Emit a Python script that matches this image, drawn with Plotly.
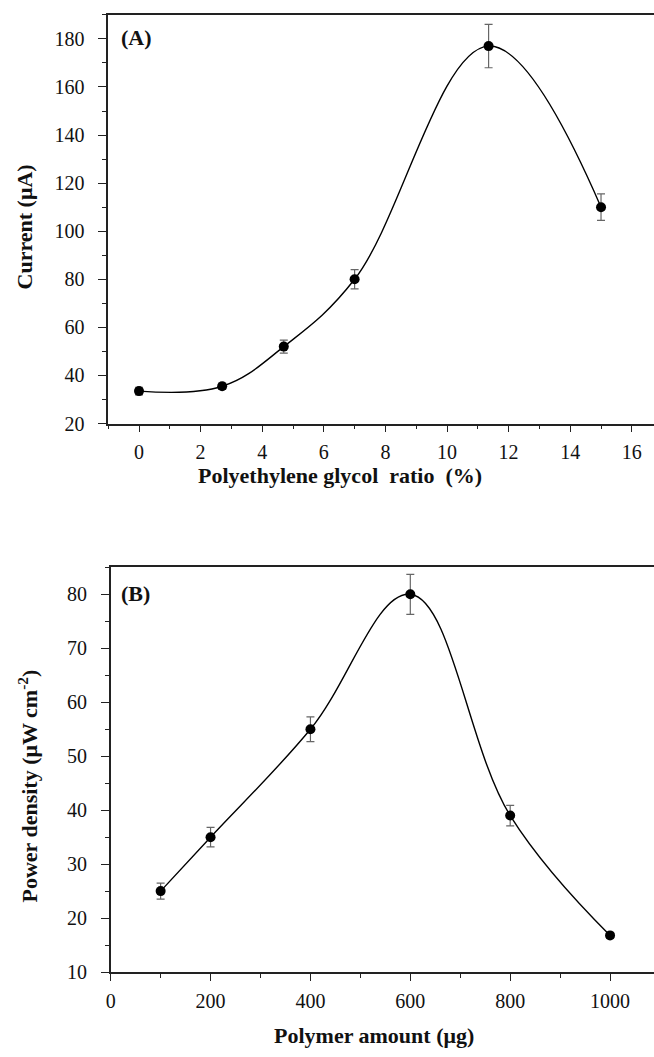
import plotly.graph_objects as go

W, H = 654, 1057

# Panel A data
peg_ratio = [0, 2.7, 4.7, 7.0, 11.35, 15.0]
current = [33.5, 35.5, 52.0, 80.0, 177.0, 110.0]
current_err = [1.6, 1.3, 2.7, 4.0, 9.0, 5.5]

# Panel B data
polymer_amount = [100, 200, 400, 600, 800, 1000]
power_density = [25.0, 35.0, 55.0, 80.0, 39.0, 16.8]
power_err = [1.5, 1.8, 2.3, 3.7, 1.9, 0.5]

FONT = "Liberation Serif, Times New Roman, serif"
AX_COLOR = "#222222"

fig = go.Figure()

def add_panel(x, y, err, xa, ya):
    fig.add_trace(go.Scatter(
        x=x, y=y, mode="lines",
        line=dict(color="black", width=1.4, shape="spline", smoothing=1.1),
        xaxis=xa, yaxis=ya, showlegend=False, hoverinfo="skip"))
    fig.add_trace(go.Scatter(
        x=x, y=y, mode="markers",
        marker=dict(color="black", size=10, symbol="circle"),
        error_y=dict(type="data", array=err, visible=True, color="#666666",
                     thickness=1.2, width=4),
        xaxis=xa, yaxis=ya, showlegend=False))

add_panel(peg_ratio, current, current_err, "x", "y")
add_panel(polymer_amount, power_density, power_err, "x2", "y2")

def px_x(v):
    return v / W

def px_y(v):
    return 1 - v / H

tickfont = dict(family=FONT, size=20, color="#111111")

common_axis = dict(showgrid=False, zeroline=False, showline=True, linecolor=AX_COLOR,
                   linewidth=1.5, ticks="outside", tickcolor=AX_COLOR, tickwidth=1.3,
                   tickfont=tickfont)

fig.update_layout(
    width=W, height=H,
    margin=dict(l=0, r=0, t=0, b=0),
    paper_bgcolor="white", plot_bgcolor="white",
    xaxis=dict(domain=[px_x(104), 1], anchor="y", range=[-1, 16.72],
               tick0=0, dtick=2, ticklen=7, mirror=True,
               minor=dict(dtick=1, ticklen=4, tickcolor=AX_COLOR, ticks="outside"),
               ticklabelstandoff=3, **common_axis),
    yaxis=dict(domain=[px_y(428), px_y(15)], anchor="x", range=[20, 190],
               tick0=20, dtick=20, ticklen=8,
               minor=dict(dtick=10, ticklen=4, tickcolor=AX_COLOR, ticks="outside"),
               ticklabelstandoff=10, **common_axis),
    xaxis2=dict(domain=[px_x(106.5), 1], anchor="y2", range=[0, 1088],
                tick0=0, dtick=200, ticklen=7, mirror=True,
                minor=dict(dtick=100, ticklen=4, tickcolor=AX_COLOR, ticks="outside"),
                ticklabelstandoff=3, **common_axis),
    yaxis2=dict(domain=[px_y(982.3), px_y(573.3)], anchor="x2", range=[10, 85],
                tick0=10, dtick=10, ticklen=8,
                minor=dict(dtick=5, ticklen=4, tickcolor=AX_COLOR, ticks="outside"),
                ticklabelstandoff=10, **common_axis),
)

title_font = dict(family=FONT, size=22, color="#111111")
annots = [
    dict(text="<b>(A)</b>", x=px_x(115), y=px_y(38), xanchor="left", yanchor="middle"),
    dict(text="<b>(B)</b>", x=px_x(115), y=px_y(600), xanchor="left", yanchor="middle"),
    dict(text="<b>Polyethylene glycol&nbsp; ratio&nbsp; (%)</b>", x=px_x(338), y=px_y(481),
         xanchor="center", yanchor="middle"),
    dict(text="<b>Polymer amount (μg)</b>", x=px_x(372), y=px_y(1046),
         xanchor="center", yanchor="middle"),
    dict(text="<b>Current (μA)</b>", x=px_x(20), y=px_y(229), textangle=-90,
         xanchor="center", yanchor="middle"),
    dict(text="<b>Power density (μW cm<sup>-2</sup>)</b>", x=px_x(23), y=px_y(794),
         textangle=-90, xanchor="center", yanchor="middle"),
]
for a in annots:
    fig.add_annotation(xref="paper", yref="paper", showarrow=False, font=title_font, **a)

fig.write_html("out.html")
